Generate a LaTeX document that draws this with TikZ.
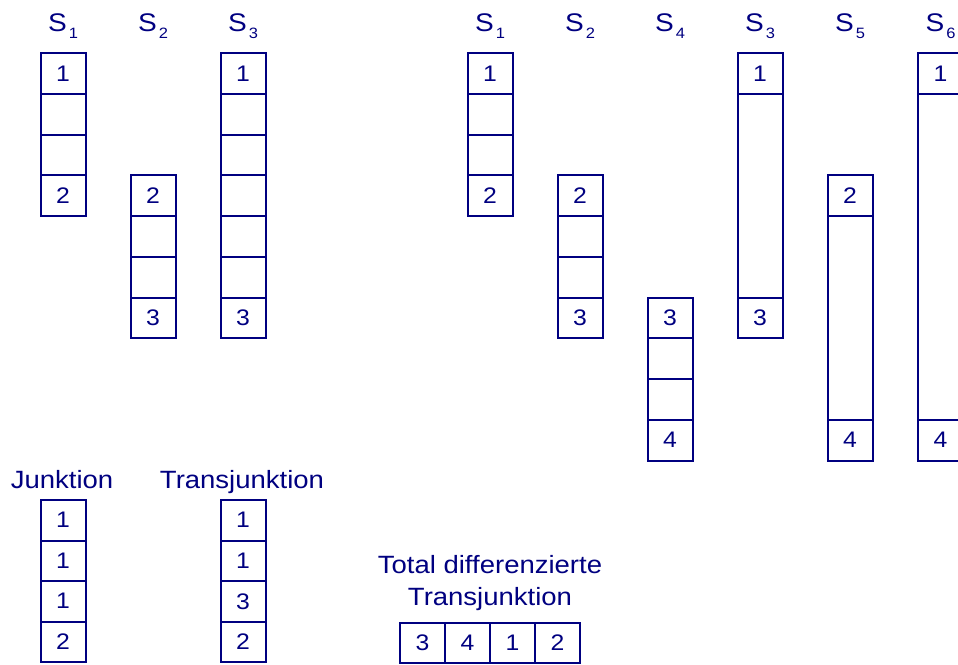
\documentclass[tikz,border=0pt]{standalone}
\usepackage{fontspec}
\setmainfont{Liberation Sans}[FakeStretch=1.1]
\definecolor{ink}{RGB}{0,0,128}
% S with a lowered index
\newcommand\sidx[1]{S\kern2pt\raisebox{-7pt}{\fontsize{15}{15}\selectfont #1}}
\begin{document}
\begin{tikzpicture}[x=1pt,y=-1pt,
  cell/.style={draw=ink, line width=2pt, minimum width=45pt, minimum height=40.75pt,
    inner sep=0pt, text=ink, font=\fontsize{22.5}{25}\selectfont},
  lowcell/.style={cell, minimum height=40.5pt},
  caption/.style={text=ink, inner sep=0pt, anchor=base, font=\fontsize{25}{28}\selectfont},
  slabel/.style={text=ink, inner sep=0pt, anchor=base, font=\fontsize{25.5}{28}\selectfont}]
\useasboundingbox (0,0) rectangle (958,664);

% ---------- left group: S1, S2, S3 ----------
\node[slabel] (ls1) at (63,31.5) {\sidx{1}};
\node[slabel] (ls2) at (153,31.5) {\sidx{2}};
\node[slabel] (ls3) at (243,31.5) {\sidx{3}};
\foreach \r/\t in {0/1,1/,2/,3/2}
  \node[cell] (la-\r) at (63,{53+40.75*(\r+0.5)}) {\t};
\foreach \r/\t in {3/2,4/,5/,6/3}
  \node[cell] (lb-\r) at (153,{53+40.75*(\r+0.5)}) {\t};
\foreach \r/\t in {0/1,1/,2/,3/,4/,5/,6/3}
  \node[cell] (lc-\r) at (243,{53+40.75*(\r+0.5)}) {\t};

% ---------- right group: S1, S2, S4, S3, S5, S6 ----------
\node[slabel] (rs1) at (490,31.5) {\sidx{1}};
\node[slabel] (rs2) at (580,31.5) {\sidx{2}};
\node[slabel] (rs4) at (670,31.5) {\sidx{4}};
\node[slabel] (rs3) at (760,31.5) {\sidx{3}};
\node[slabel] (rs5) at (850,31.5) {\sidx{5}};
\node[slabel] (rs6) at (940.5,31.5) {\sidx{6}};
\foreach \r/\t in {0/1,1/,2/,3/2}
  \node[cell] (ra-\r) at (490,{53+40.75*(\r+0.5)}) {\t};
\foreach \r/\t in {3/2,4/,5/,6/3}
  \node[cell] (rb-\r) at (580,{53+40.75*(\r+0.5)}) {\t};
\foreach \r/\t in {6/3,7/,8/,9/4}
  \node[cell] (rc-\r) at (670,{53+40.75*(\r+0.5)}) {\t};
% S3: 1 ... 3
\node[cell] (rd-top) at (760,{53+40.75*0.5}) {1};
\node[cell, minimum height=203.75pt] (rd-mid) at (760,{53+40.75*3.5}) {};
\node[cell] (rd-bot) at (760,{53+40.75*6.5}) {3};
% S5: 2 ... 4
\node[cell] (re-top) at (850,{53+40.75*3.5}) {2};
\node[cell, minimum height=203.75pt] (re-mid) at (850,{53+40.75*6.5}) {};
\node[cell] (re-bot) at (850,{53+40.75*9.5}) {4};
% S6: 1 ... 4
\node[cell] (rf-top) at (940.5,{53+40.75*0.5}) {1};
\node[cell, minimum height=326pt] (rf-mid) at (940.5,{53+40.75*5}) {};
\node[cell] (rf-bot) at (940.5,{53+40.75*9.5}) {4};

% ---------- bottom: the three orderings ----------
\node[caption] (cj) at (62,488.5) {Junktion};
\node[caption] (ct) at (242,488.5) {Transjunktion};
\foreach \r/\t in {0/1,1/1,2/1,3/2}
  \node[lowcell] (j-\r) at (63,{500+40.5*(\r+0.5)}) {\t};
\foreach \r/\t in {0/1,1/1,2/3,3/2}
  \node[lowcell] (t-\r) at (243,{500+40.5*(\r+0.5)}) {\t};

\node[caption] (cd1) at (490,573.5) {Total differenzierte};
\node[caption] (cd2) at (490,605.7) {Transjunktion};
\foreach \k/\t in {0/3,1/4,2/1,3/2}
  \node[lowcell] (d-\k) at ({422.5+45*\k},642.75) {\t};
\end{tikzpicture}
\end{document}
